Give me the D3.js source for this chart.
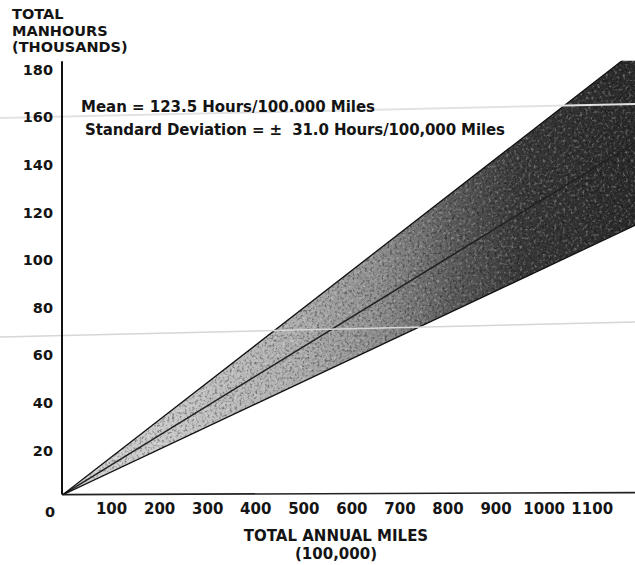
<!DOCTYPE html>
<html>
<head>
<meta charset="utf-8">
<script src="https://cdn.jsdelivr.net/npm/d3@7"></script>
<style>
  body { margin: 0; background: #fff; }
  svg { display: block; }
  text { font-family: "DejaVu Sans", sans-serif; font-weight: bold; fill: #141414; }
</style>
</head>
<body>
<div id="chart"></div>
<script>
// values
var xTicks = [100, 200, 300, 400, 500, 600, 700, 800, 900, 1000, 1100];
var yTicks = [20, 40, 60, 80, 100, 120, 140, 160, 180];

// band end points (miles in 100,000, manhours in thousands)
var miles = [0, 1200];
var lowerHours = [0, 114];
var meanHours = [0, 149];
var upperHours = [0, 188];

var yTitle = ["TOTAL", "MANHOURS", "(THOUSANDS)"];
var xTitle = ["TOTAL ANNUAL MILES", "(100,000)"];
var notes = ["Mean = 123.5 Hours/100.000 Miles",
  "Standard Deviation = \u00b1  31.0 Hours/100,000 Miles"];

var w = 635;
var h = 565;
var svg, x, y;

function init() {
  svg = d3.select("#chart")
    .append("svg")
    .attr("width", w)
    .attr("height", h);

  x = d3.scaleLinear().domain([0, 1100]).range([63, 591.7]);
  y = d3.scaleLinear().domain([0, 180]).range([494.6, 66]);

  drawBand();
  drawAxes();
  drawText();
}

function drawBand() {
  var defs = svg.append("defs");

  // plot stops at the top of the y axis and at the page edge
  defs.append("clipPath").attr("id", "plot")
    .append("rect")
    .attr("x", x(0))
    .attr("y", y(182.2))
    .attr("width", w - x(0))
    .attr("height", y(0) - y(182.2) + 2);

  var grad = defs.append("linearGradient")
    .attr("id", "shade")
    .attr("gradientUnits", "userSpaceOnUse")
    .attr("x1", x(0)).attr("x2", w)
    .attr("y1", 0).attr("y2", 0);
  var stops = [[0, "#d4d4d4"], [0.2, "#c8c8c8"], [0.4, "#b0b0b0"], [0.56, "#8c8c8c"],
    [0.68, "#5c5c5c"], [0.8, "#383838"], [1, "#2a2a2a"]];
  stops.forEach(function(s) {
    grad.append("stop").attr("offset", s[0]).attr("stop-color", s[1]);
  });

  // grainy print texture
  var dark = defs.append("filter").attr("id", "grainDark")
    .attr("x", 0).attr("y", 0).attr("width", "100%").attr("height", "100%");
  dark.append("feTurbulence").attr("type", "fractalNoise")
    .attr("baseFrequency", 0.4).attr("numOctaves", 3).attr("seed", 4);
  dark.append("feColorMatrix").attr("type", "matrix")
    .attr("values", "0 0 0 0 0  0 0 0 0 0  0 0 0 0 0  3 0 0 0 -1.45");

  var light = defs.append("filter").attr("id", "grainLight")
    .attr("x", 0).attr("y", 0).attr("width", "100%").attr("height", "100%");
  light.append("feTurbulence").attr("type", "fractalNoise")
    .attr("baseFrequency", 0.35).attr("numOctaves", 3).attr("seed", 9);
  light.append("feColorMatrix").attr("type", "matrix")
    .attr("values", "0 0 0 0 1  0 0 0 0 1  0 0 0 0 1  -3 0 0 0 1.45");

  var idx = d3.range(miles.length);
  var area = d3.area()
    .x(function(i) { return x(miles[i]); })
    .y0(function(i) { return y(lowerHours[i]); })
    .y1(function(i) { return y(upperHours[i]); });

  defs.append("clipPath").attr("id", "bandClip")
    .append("path").attr("d", area(idx));

  var g = svg.append("g").attr("clip-path", "url(#plot)");

  g.append("path")
    .attr("d", area(idx))
    .attr("fill", "url(#shade)");

  var tex = g.append("g").attr("clip-path", "url(#bandClip)");
  tex.append("rect")
    .attr("x", x(0)).attr("y", 40).attr("width", w).attr("height", 460)
    .attr("filter", "url(#grainDark)")
    .attr("opacity", 0.4);
  tex.append("rect")
    .attr("x", x(0)).attr("y", 40).attr("width", w).attr("height", 460)
    .attr("filter", "url(#grainLight)")
    .attr("opacity", 0.3);

  var line = function(vals) {
    return d3.line()
      .x(function(i) { return x(miles[i]); })
      .y(function(i) { return y(vals[i]); })(idx);
  };

  g.append("path").attr("d", line(meanHours))
    .attr("fill", "none").attr("stroke", "#222").attr("stroke-width", 1.6);
  g.append("path").attr("d", line(upperHours))
    .attr("fill", "none").attr("stroke", "#111").attr("stroke-width", 1.3);
  g.append("path").attr("d", line(lowerHours))
    .attr("fill", "none").attr("stroke", "#111").attr("stroke-width", 1.3);

  // faint fold marks from the scan
  svg.append("line")
    .attr("x1", 0).attr("y1", 118).attr("x2", w).attr("y2", 104)
    .attr("stroke", "#e2e2e2").attr("stroke-width", 2);
  svg.append("line")
    .attr("x1", 0).attr("y1", 337).attr("x2", w).attr("y2", 322)
    .attr("stroke", "#d6d6d6").attr("stroke-width", 1.5);
}

function drawAxes() {
  svg.append("line")
    .attr("x1", x(0) - 1).attr("y1", y(0))
    .attr("x2", x(0) - 1).attr("y2", y(182))
    .attr("stroke", "#111").attr("stroke-width", 2);

  svg.append("line")
    .attr("x1", x(0) - 1).attr("y1", y(0))
    .attr("x2", w).attr("y2", y(0) - 2)
    .attr("stroke", "#222").attr("stroke-width", 1.6);

  var yAxis = svg.append("g")
    .attr("transform", "translate(" + x(0) + ",0)")
    .call(d3.axisLeft(y).tickValues(yTicks).tickSize(0).tickPadding(10));
  yAxis.select(".domain").remove();
  yAxis.attr("font-family", null).attr("font-size", null);
  yAxis.selectAll("text")
    .attr("font-size", 14.5)
    .attr("dy", "0.57em");

  var xAxis = svg.append("g")
    .attr("transform", "translate(0," + y(0) + ")")
    .call(d3.axisBottom(x).tickValues(xTicks).tickFormat(d3.format("d"))
      .tickSize(0).tickPadding(9));
  xAxis.select(".domain").remove();
  xAxis.attr("font-family", null).attr("font-size", null);
  xAxis.selectAll("text")
    .attr("font-size", 15);

  svg.append("text")
    .text("0")
    .attr("x", x(0) - 13)
    .attr("y", y(0) + 22)
    .attr("text-anchor", "middle")
    .attr("font-size", 14.5);
}

function drawText() {
  for (var i = 0; i < yTitle.length; i++) {
    svg.append("text")
      .text(yTitle[i])
      .attr("x", 12)
      .attr("y", 19 + i * 16.5)
      .attr("font-size", 14.5);
  }

  for (var j = 0; j < xTitle.length; j++) {
    svg.append("text")
      .text(xTitle[j])
      .attr("x", 336)
      .attr("y", 541 + j * 17.5)
      .attr("text-anchor", "middle")
      .attr("font-size", 15);
  }

  svg.append("text")
    .text(notes[0])
    .attr("x", 81).attr("y", 112)
    .attr("font-size", 15)
    .attr("textLength", 294)
    .attr("lengthAdjust", "spacing");

  svg.append("text")
    .text(notes[1])
    .style("white-space", "pre")
    .attr("x", 85).attr("y", 135)
    .attr("font-size", 15)
    .attr("textLength", 420)
    .attr("lengthAdjust", "spacing");
}

init();
</script>
</body>
</html>
